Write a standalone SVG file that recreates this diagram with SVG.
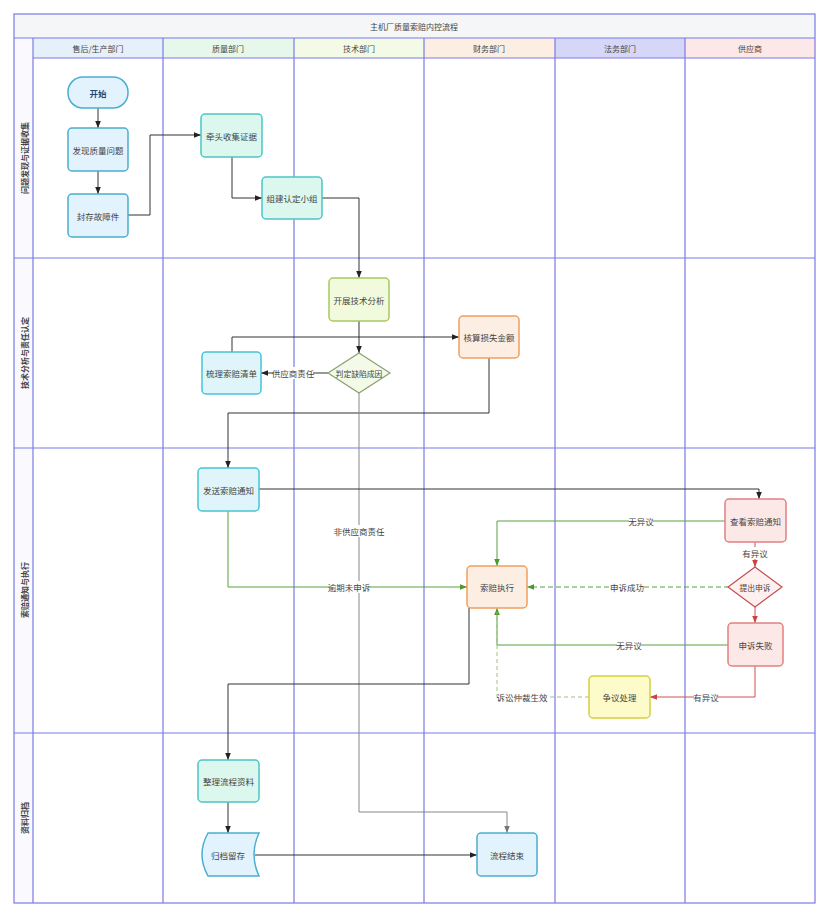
<svg xmlns="http://www.w3.org/2000/svg" width="830" height="918" viewBox="0 0 830 918">
<style>
text{font-family:"Noto Sans CJK SC","Noto Sans",sans-serif;fill:#333;}
.t{font-size:8px;text-anchor:middle;dominant-baseline:central;fill:#444;}
.n{font-size:8.5px;text-anchor:middle;dominant-baseline:central;fill:#444;}
.nd{font-size:7.8px;text-anchor:middle;dominant-baseline:central;fill:#444;}
.rl{font-size:8px;text-anchor:middle;dominant-baseline:central;font-weight:bold;fill:#444;}
.lane{fill:none;stroke:#7b7be6;stroke-width:1.2;}
.lbl{font-size:8.5px;text-anchor:middle;dominant-baseline:central;fill:#444;}
.blue{fill:#e3f3fd;stroke:#4aaed0;stroke-width:1.5;}
.teal{fill:#dcf7ee;stroke:#4cc6c6;stroke-width:1.5;}
.cyan{fill:#dff5fa;stroke:#45c4d8;stroke-width:1.5;}
.lime{fill:#f1fadc;stroke:#a8c860;stroke-width:1.5;}
.dia{fill:#f3fbe8;stroke:#8aa070;stroke-width:1.2;}
.orange{fill:#fdeee3;stroke:#f0a060;stroke-width:1.5;}
.pink{fill:#fde8e8;stroke:#e08080;stroke-width:1.5;}
.rdia{fill:#fff0f0;stroke:#c05050;stroke-width:1.2;}
.yellow{fill:#fdfbc9;stroke:#d8d040;stroke-width:1.5;}
.k{fill:none;stroke:#333;stroke-width:1;}
.g{fill:none;stroke:#888;stroke-width:1;}
.gr{fill:none;stroke:#5aa040;stroke-width:1;}
.grd{fill:none;stroke:#5aa040;stroke-width:1;stroke-dasharray:5 3;}
.lgd{fill:none;stroke:#a0c080;stroke-width:1;stroke-dasharray:4 3;}
.rd{fill:none;stroke:#d05050;stroke-width:1;}
</style>
<defs>
<marker id="ak" viewBox="0 0 10 10" refX="10" refY="5" markerWidth="7" markerHeight="7" orient="auto"><path d="M0,1 L10,5 L0,9 z" fill="#222"/></marker>
<marker id="ag" viewBox="0 0 10 10" refX="10" refY="5" markerWidth="7" markerHeight="7" orient="auto"><path d="M0,1 L10,5 L0,9 z" fill="#777"/></marker>
<marker id="agr" viewBox="0 0 10 10" refX="10" refY="5" markerWidth="7" markerHeight="7" orient="auto"><path d="M0,1 L10,5 L0,9 z" fill="#4a9a30"/></marker>
<marker id="ard" viewBox="0 0 10 10" refX="10" refY="5" markerWidth="7" markerHeight="7" orient="auto"><path d="M0,1 L10,5 L0,9 z" fill="#d04040"/></marker>
</defs>
<rect width="830" height="918" fill="#fff"/>
<g id="pool">
<rect x="14" y="14" width="801" height="24" fill="#f5f6f8"/>
<text class="t" x="414" y="26">主机厂质量索赔内控流程</text>
<rect x="14" y="38" width="19" height="865" fill="#fafafe"/>
<rect x="33" y="38" width="130" height="20" fill="#e6f0fb"/>
<rect x="163" y="38" width="131" height="20" fill="#e6f8ec"/>
<rect x="294" y="38" width="130" height="20" fill="#f3fbe6"/>
<rect x="424" y="38" width="131" height="20" fill="#fdeee3"/>
<rect x="555" y="38" width="130" height="20" fill="#d6d7f8"/>
<rect x="685" y="38" width="130" height="20" fill="#fce8e8"/>
<text class="t" x="98" y="48">售后/生产部门</text>
<text class="t" x="228" y="48">质量部门</text>
<text class="t" x="359" y="48">技术部门</text>
<text class="t" x="489" y="48">财务部门</text>
<text class="t" x="620" y="48">法务部门</text>
<text class="t" x="750" y="48">供应商</text>
<rect class="lane" x="14" y="14" width="801" height="889" stroke-width="2"/>
<path class="lane" d="M14,38 H815 M33,58 H815 M14,258 H815 M14,448 H815 M14,733 H815 M33,38 V903 M163,38 V903 M294,38 V903 M424,38 V903 M555,38 V903 M685,38 V903"/>
<text class="rl" transform="translate(24,158) rotate(-90)">问题发现与证据收集</text>
<text class="rl" transform="translate(24,353) rotate(-90)">技术分析与责任认定</text>
<text class="rl" transform="translate(24,590) rotate(-90)">索赔通知与执行</text>
<text class="rl" transform="translate(24,818) rotate(-90)">资料归档</text>
</g>
<g id="connectors">
<path class="k" d="M98,108 V128" marker-end="url(#ak)"/>
<path class="k" d="M98,171 V194" marker-end="url(#ak)"/>
<path class="k" d="M128,215 H150 V135 H201" marker-end="url(#ak)"/>
<path class="k" d="M232,157 V198 H262" marker-end="url(#ak)"/>
<path class="k" d="M322,198 H359 V278" marker-end="url(#ak)"/>
<path class="k" d="M359,321 V353" marker-end="url(#ak)"/>
<path class="k" d="M232,352 V337 H459" marker-end="url(#ak)"/>
<path class="k" d="M328,373 H261" marker-end="url(#ak)"/>
<path class="k" d="M489,358 V413 H228 V468" marker-end="url(#ak)"/>
<path class="g" d="M359,393 V812 H507 V833" marker-end="url(#ag)"/>
<path class="k" d="M259,489 H759 V499" marker-end="url(#ak)"/>
<path class="gr" d="M228,511 V587 H467" marker-end="url(#agr)"/>
<path class="gr" d="M725,521 H497 V566" marker-end="url(#agr)"/>
<path class="rd" d="M755,542 V567" marker-end="url(#ard)"/>
<path class="grd" d="M729,587 H527" marker-end="url(#agr)"/>
<path class="rd" d="M755,607 V623" marker-end="url(#ard)"/>
<path class="gr" d="M728,645 H497 V608" marker-end="url(#agr)"/>
<path class="rd" d="M755,666 V697 H650" marker-end="url(#ard)"/>
<path class="lgd" d="M589,697 H497 V612"/>
<path class="k" d="M469,608 V684 H228 V760" marker-end="url(#ak)"/>
<path class="k" d="M228,802 V833" marker-end="url(#ak)"/>
<path class="k" d="M255,855 H477" marker-end="url(#ak)"/>
<rect x="273" y="367" width="40" height="12" fill="#fff"/>
<text class="lbl" x="293" y="373">供应商责任</text>
<rect x="336" y="525" width="46" height="12" fill="#fff"/>
<text class="lbl" x="359" y="531">非供应商责任</text>
<rect x="330" y="581" width="38" height="12" fill="#fff"/>
<text class="lbl" x="349" y="587">逾期未申诉</text>
<rect x="629" y="515" width="24" height="12" fill="#fff"/>
<text class="lbl" x="641" y="521">无异议</text>
<rect x="743" y="547" width="24" height="12" fill="#fff"/>
<text class="lbl" x="755" y="553">有异议</text>
<rect x="611" y="581" width="32" height="12" fill="#fff"/>
<text class="lbl" x="627" y="587">申诉成功</text>
<rect x="617" y="639" width="24" height="12" fill="#fff"/>
<text class="lbl" x="629" y="645">无异议</text>
<rect x="694" y="691" width="24" height="12" fill="#fff"/>
<text class="lbl" x="706" y="697">有异议</text>
<rect x="498" y="691" width="48" height="12" fill="#fff"/>
<text class="lbl" x="522" y="697">诉讼仲裁生效</text>
</g>
<g id="n-start"><rect class="blue" x="68" y="77" width="60" height="31" rx="15"/><text class="n" x="98" y="92.5" font-weight="bold" style="fill:#1f4a78">开始</text></g>
<g id="n-find"><rect class="blue" x="68" y="128" width="60" height="43" rx="4"/><text class="n" x="98" y="149.5">发现质量问题</text></g>
<g id="n-seal"><rect class="blue" x="68" y="194" width="60" height="43" rx="4"/><text class="n" x="98" y="215.5">封存故障件</text></g>
<g id="n-collect"><rect class="teal" x="201" y="114" width="61" height="43" rx="4"/><text class="n" x="231.5" y="135.5">牵头收集证据</text></g>
<g id="n-team"><rect class="teal" x="262" y="177" width="60" height="42" rx="4"/><text class="n" x="292" y="198">组建认定小组</text></g>
<g id="n-analysis"><rect class="lime" x="329" y="278" width="60" height="43" rx="4"/><text class="n" x="359" y="299.5">开展技术分析</text></g>
<g id="n-judge"><polygon class="dia" points="359,353 390,373 359,393 328,373"/><text class="nd" x="359" y="373">判定缺陷成因</text></g>
<g id="n-list"><rect class="cyan" x="202" y="352" width="59" height="42" rx="4"/><text class="n" x="231.5" y="373">梳理索赔清单</text></g>
<g id="n-calc"><rect class="orange" x="459" y="316" width="60" height="42" rx="4"/><text class="n" x="489" y="337">核算损失金额</text></g>
<g id="n-notify"><rect class="cyan" x="198" y="468" width="61" height="43" rx="4"/><text class="n" x="228.5" y="489.5">发送索赔通知</text></g>
<g id="n-view"><rect class="pink" x="725" y="499" width="61" height="43" rx="4"/><text class="n" x="755.5" y="520.5">查看索赔通知</text></g>
<g id="n-exec"><rect class="orange" x="467" y="566" width="60" height="42" rx="4"/><text class="n" x="497" y="587">索赔执行</text></g>
<g id="n-appeal"><polygon class="rdia" points="755,567 782,587 755,607 728,587"/><text class="nd" x="755" y="587">提出申诉</text></g>
<g id="n-fail"><rect class="pink" x="728" y="623" width="55" height="43" rx="4"/><text class="n" x="755.5" y="644.5">申诉失败</text></g>
<g id="n-dispute"><rect class="yellow" x="589" y="676" width="61" height="42" rx="4"/><text class="n" x="619.5" y="697">争议处理</text></g>
<g id="n-organize"><rect class="teal" x="198" y="760" width="61" height="42" rx="4"/><text class="n" x="228.5" y="781">整理流程资料</text></g>
<g id="n-archive"><path class="blue" d="M208,833 H259 Q249,854.5 259,876 H208 Q196,854.5 208,833 Z"/><text class="n" x="228" y="854.5">归档留存</text></g>
<g id="n-end"><rect class="blue" x="477" y="833" width="60" height="43" rx="4"/><text class="n" x="507" y="854.5">流程结束</text></g>
</svg>
